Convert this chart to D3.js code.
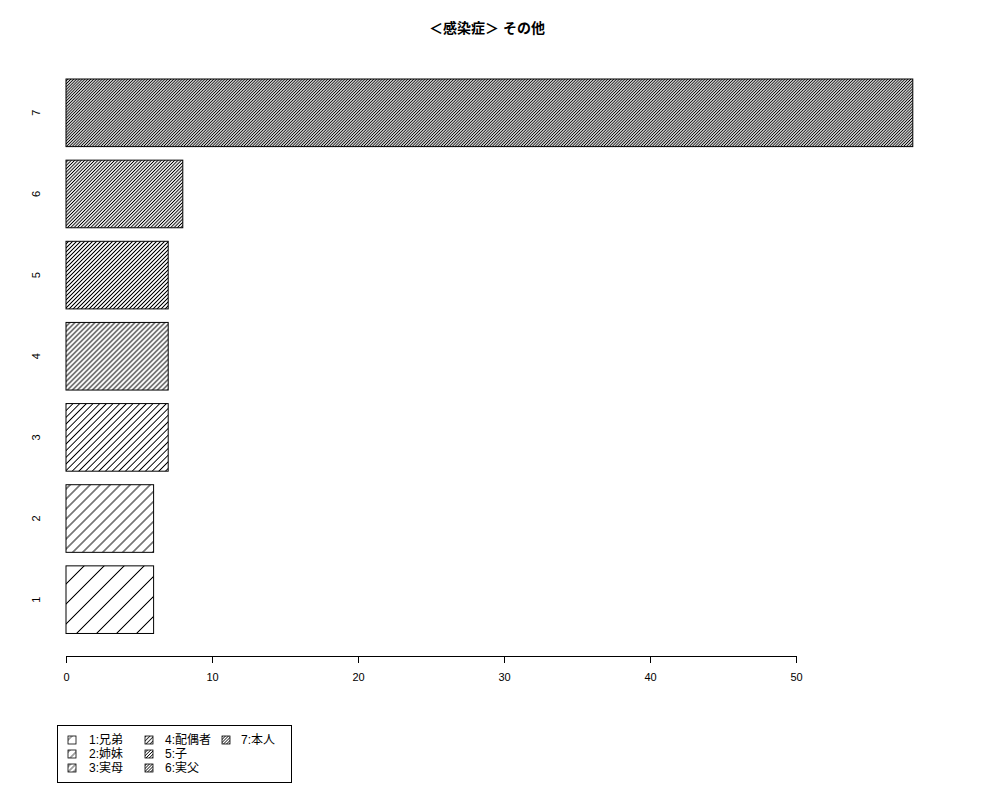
<!DOCTYPE html>
<html><head><meta charset="utf-8">
<script src="https://cdn.jsdelivr.net/npm/d3@7"></script>
<style>
body{margin:0;background:#fff;}
text{font-family:"Liberation Sans","Noto Sans CJK JP",sans-serif;}
</style></head>
<body><svg id="chart" width="1000" height="800"></svg>
<script>
const categories = ["1","2","3","4","5","6","7"];
const values = [6, 6, 7, 7, 7, 8, 58];
const legendLabels = ["1:兄弟","2:姉妹","3:実母","4:配偶者","5:子","6:実父","7:本人"];
const xTicks = [0, 10, 20, 30, 40, 50];
const title = "＜感染症＞ その他";

const svg = d3.select("#chart");
svg.append("rect").attr("width",1000).attr("height",800).attr("fill","#fff");

const x = d3.scaleLinear().domain([0, 50]).range([66, 796]);
const y = d3.scaleLinear().domain([0, 8.4]).range([647, 79]);
const space = 0.2, bw = 1;

// hatch patterns: density increases with index
const defs = svg.append("defs");
function makePattern(id, hs, sw) {
  const d = hs / Math.SQRT2;
  const p = defs.append("pattern")
    .attr("id", id)
    .attr("patternUnits", "userSpaceOnUse")
    .attr("width", d).attr("height", d)
    .attr("patternTransform", "rotate(45)");
  p.append("line").attr("x1", d / 2).attr("y1", -1).attr("x2", d / 2).attr("y2", d + 1)
    .attr("stroke", "#000").attr("stroke-width", sw);
}
categories.forEach((c, i) => {
  makePattern("hatch" + i, 20 / (i + 1), 0.95);
  makePattern("lhatch" + i, Math.max(16 / (i + 1), 3), 0.7);
});

// bars
svg.append("g").selectAll("rect").data(values).join("rect")
  .attr("x", x(0))
  .attr("y", (v, i) => y(space + i * (bw + space) + bw))
  .attr("width", v => x(v) - x(0))
  .attr("height", (v, i) => y(space + i * (bw + space)) - y(space + i * (bw + space) + bw))
  .attr("fill", (v, i) => `url(#hatch${i})`)
  .attr("stroke", "#000").attr("stroke-width", 1);

// y labels (rotated)
svg.append("g").selectAll("text").data(categories).join("text")
  .attr("transform", (c, i) => `translate(40,${y(space + i * (bw + space) + bw / 2)}) rotate(-90)`)
  .attr("text-anchor", "middle")
  .attr("font-size", 11)
  .text(c => c);

// x axis
const ax = svg.append("g").attr("transform", "translate(0,656)")
  .call(d3.axisBottom(x).tickValues(xTicks).tickSizeOuter(0).tickSizeInner(7).tickPadding(10).tickFormat(d3.format("d")));
ax.select(".domain").attr("stroke", "#000");
ax.selectAll(".tick line").attr("stroke", "#000");
ax.selectAll(".tick text").attr("font-size", 11).attr("fill", "#000")
  .attr("font-family", '"Liberation Sans", sans-serif');

// title
svg.append("text").attr("x", 487).attr("y", 33).attr("text-anchor", "middle")
  .attr("font-size", 14).attr("font-weight", "bold").text(title);

// legend
const lg = svg.append("g");
lg.append("rect").attr("x", 57.5).attr("y", 725.5).attr("width", 234).attr("height", 57)
  .attr("fill", "none").attr("stroke", "#000").attr("stroke-width", 1);
const colSwatchX = [68, 145, 222];
const colTextX = [89, 165, 241];
const rowY = [740, 754, 768];
legendLabels.forEach((lab, i) => {
  const col = Math.floor(i / 3), row = i % 3;
  lg.append("rect").attr("x", colSwatchX[col]).attr("y", rowY[row] - 4)
    .attr("width", 8).attr("height", 8)
    .attr("fill", `url(#lhatch${i})`).attr("stroke", "#000").attr("stroke-width", 0.8);
  lg.append("text").attr("x", colTextX[col]).attr("y", rowY[row]).attr("dy", "0.35em")
    .attr("font-size", 12).text(lab);
});
</script></body></html>
